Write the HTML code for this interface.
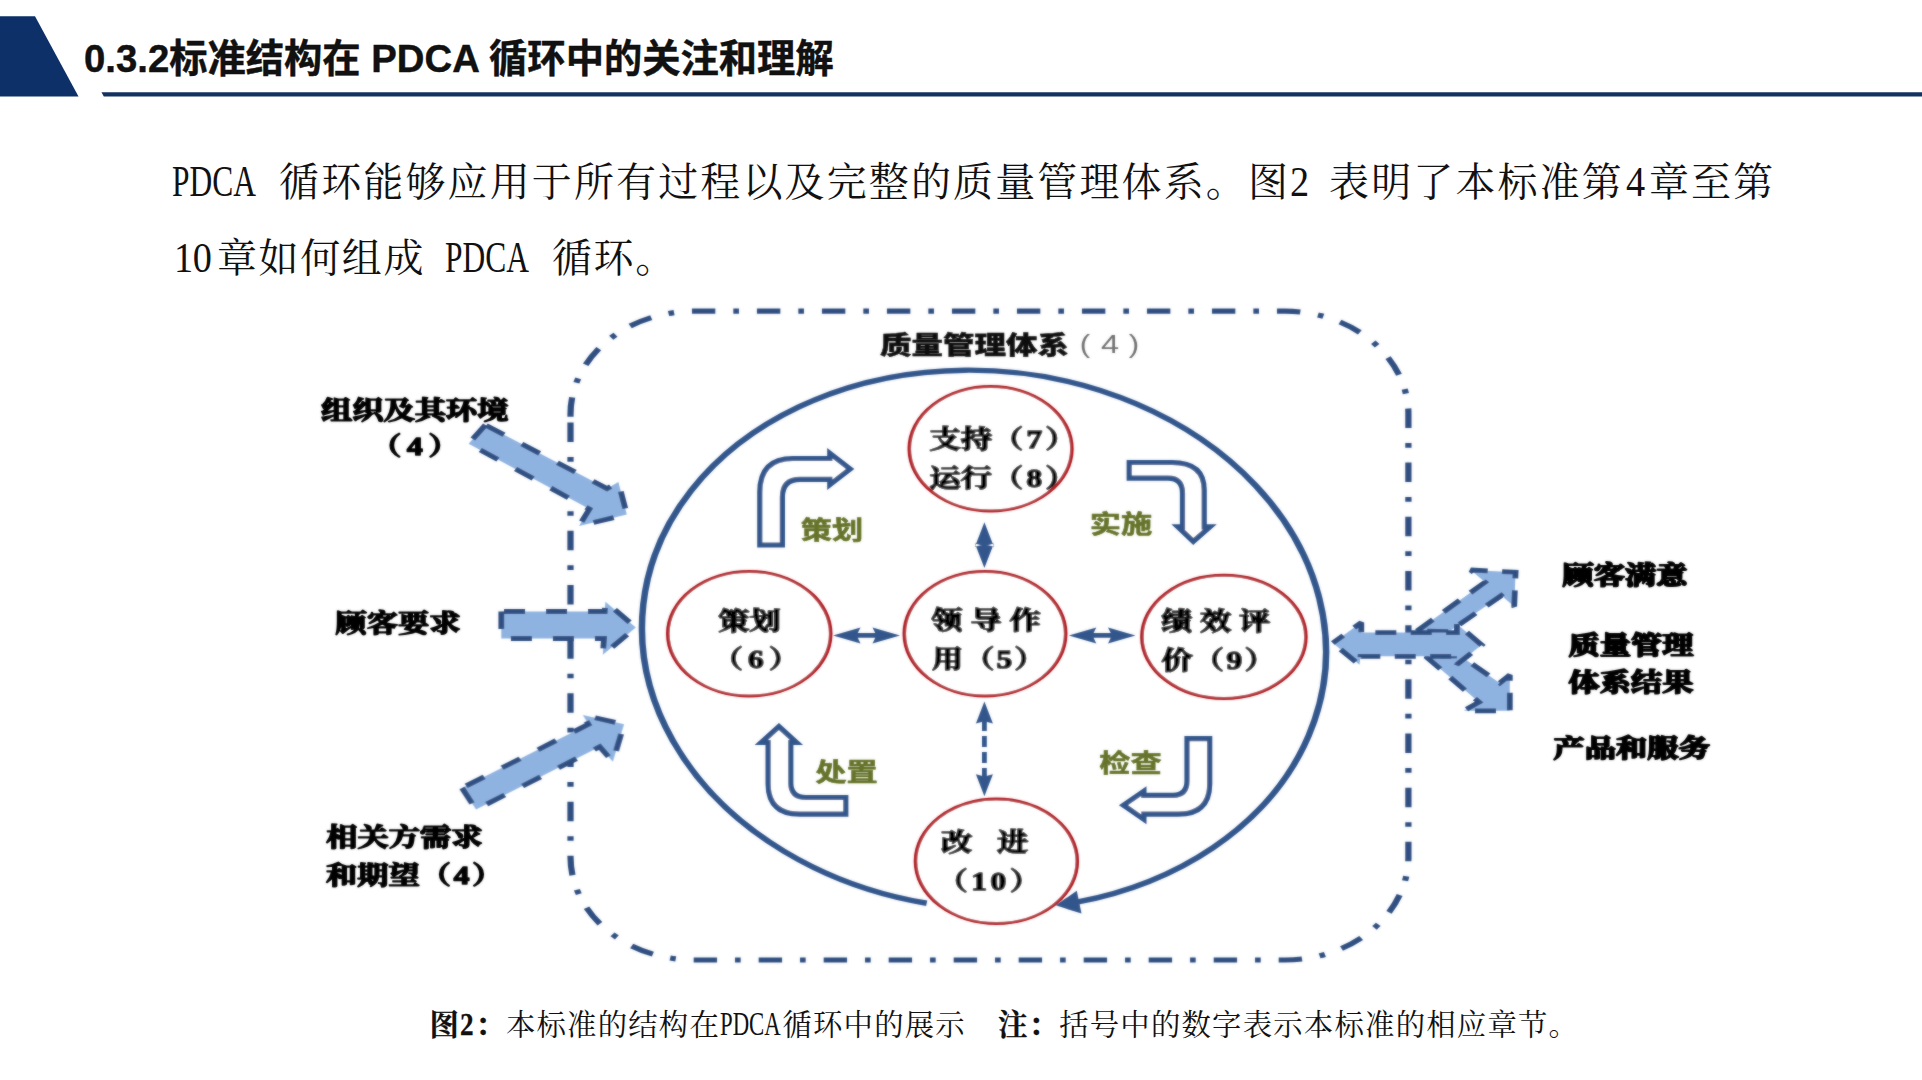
<!DOCTYPE html>
<html lang="zh-CN">
<head>
<meta charset="utf-8">
<title>0.3.2标准结构在 PDCA 循环中的关注和理解</title>
<style>
html,body{margin:0;padding:0;background:#fff;}
body{width:1922px;height:1080px;position:relative;overflow:hidden;}
.abs{position:absolute;white-space:nowrap;}
#title{left:84px;top:30.5px;font:bold 38.3px/56px 'Liberation Sans','Noto Sans CJK SC',sans-serif;color:#111;letter-spacing:0;-webkit-text-stroke:0.45px #111;}
.p{font-family:'Liberation Serif','Noto Serif CJK SC',serif;font-size:40px;line-height:60px;color:#111;letter-spacing:2.13px;}
.lw{display:inline-block;letter-spacing:0;white-space:nowrap;vertical-align:baseline;}
.li{display:inline-block;transform-origin:0 50%;letter-spacing:0;}
.p .li{font-size:44px;transform:scaleX(0.715);}
.p .dg{font-size:42.5px;transform:scaleX(0.9);}
#cap{left:429.5px;top:1002px;font-family:'Liberation Serif','Noto Serif CJK SC',serif;font-size:29.4px;line-height:44px;color:#111;letter-spacing:1.2px;}
#cap b{font-weight:700;-webkit-text-stroke:0.3px #111;}
#cap .li{font-size:33px;transform:scaleX(0.69);}
#cap b .li{font-size:32px;transform:scaleX(0.85);}
svg{position:absolute;left:0;top:0;}
</style>
</head>
<body>
<svg width="1922" height="1080" viewBox="0 0 1922 1080">
<polygon points="0,16.3 35,16.3 78.5,96.6 0,96.6" fill="#0d3068"/>
<polygon points="101.5,92.2 1922,92.2 1922,96.4 103.8,96.4" fill="#14325f"/>
<defs><filter id="soft" x="0" y="0" width="1922" height="1080" filterUnits="userSpaceOnUse"><feGaussianBlur stdDeviation="0.8" result="b"/><feComposite in="SourceGraphic" in2="b" operator="arithmetic" k1="0" k2="0.5" k3="0.5" k4="0"/></filter></defs>
<g filter="url(#soft)">
<g transform="scale(1.2 1)"><path d="M475.42,416.8 L475.42,414.2 A103,103 0 0 1 578.42,311.2 L1070.67,311.2 A103,103 0 0 1 1173.67,414.2 L1173.67,857.0 A103,103 0 0 1 1070.67,960.0 L578.42,960.0 A103,103 0 0 1 475.42,857.0 L475.42,416.8" fill="none" stroke="#2f4e80" stroke-width="5.2" stroke-dasharray="19.5 15 4.7 14.97"/></g>
<g transform="scale(1.2 1)"><path d="M772.25,903.24 A287.04,267.38 19.13 1 1 898.33,901.91" fill="none" stroke="#33568c" stroke-width="5.4"/></g>
<g transform="scale(1.2 1)" fill="#fff" stroke="#b01f26" stroke-width="3.0"><ellipse cx="825.50" cy="448.75" rx="67.75" ry="62.25"/><ellipse cx="624.38" cy="633.75" rx="67.88" ry="62.25"/><ellipse cx="820.83" cy="633.75" rx="67.25" ry="62.25"/><ellipse cx="1019.92" cy="636.9" rx="68.33" ry="61.6"/><ellipse cx="830.33" cy="861.25" rx="67.42" ry="62.25"/></g>
<path d="M1055.6,905.3 L1076.8,890.8 L1081.5,913.6 Z" fill="#33568c"/>
<g transform="scale(1.2 1)"><path d="M404.50,425.00 L390.50,443.70 L491.17,509.00 L482.50,526.00 L522.33,514.50 L515.33,482.00 L505.83,488.60 Z" fill="#8fb3e1" stroke="#2f4e80" stroke-width="4.8" stroke-dasharray="17.5 17.5" stroke-dashoffset="0" stroke-linejoin="miter" stroke-miterlimit="2.2"/></g>
<g transform="scale(1.2 1)"><path d="M417.75,611.50 L417.75,638.50 L503.33,638.50 L502.33,654.80 L529.83,627.50 L504.50,601.70 L503.92,611.50 Z" fill="#8fb3e1" stroke="#2f4e80" stroke-width="4.8" stroke-dasharray="17.5 17.5" stroke-dashoffset="0" stroke-linejoin="miter" stroke-miterlimit="2.2"/></g>
<g transform="scale(1.2 1)"><path d="M385.00,788.00 L396.67,809.60 L499.75,746.80 L510.67,761.80 L520.00,724.30 L485.67,715.00 L490.33,724.30 Z" fill="#8fb3e1" stroke="#2f4e80" stroke-width="4.8" stroke-dasharray="17.5 17.5" stroke-dashoffset="0" stroke-linejoin="miter" stroke-miterlimit="2.2"/></g>
<g transform="scale(1.2 1)"><path d="M1180.75,631.10 L1237.50,582.20 L1225.67,570.00 L1263.00,572.20 L1261.83,606.40 L1251.08,595.60 L1207.50,631.60 Z" fill="#8fb3e1" stroke="#2f4e80" stroke-width="4.8" stroke-dasharray="17.5 12" stroke-dashoffset="0" stroke-linejoin="miter" stroke-miterlimit="2.2"/></g>
<g transform="scale(1.2 1)"><path d="M1188.08,656.30 L1232.50,702.20 L1219.83,710.80 L1258.17,710.80 L1258.17,675.00 L1249.83,683.00 L1216.67,655.80 Z" fill="#8fb3e1" stroke="#2f4e80" stroke-width="4.8" stroke-dasharray="17.5 12" stroke-dashoffset="0" stroke-linejoin="miter" stroke-miterlimit="2.2"/></g>
<g transform="scale(1.2 1)"><path d="M1110.67,643.00 L1134.42,622.60 L1134.42,632.60 L1214.08,632.60 L1214.08,624.00 L1234.67,645.00 L1214.08,664.60 L1214.08,656.30 L1133.75,656.30 L1132.92,664.80 Z" fill="#8fb3e1" stroke="#2f4e80" stroke-width="4.8" stroke-dasharray="17.5 12" stroke-dashoffset="6" stroke-linejoin="miter" stroke-miterlimit="2.2"/></g>
<path d="M759.8,545 L759.8,492 Q759.8,458.5 793,458.5 L829.8,458.5 L829.8,453.3 L850.1,469 L829.8,484.7 L829.8,479.3 L800,479.3 Q782.4,479.3 782.4,497 L782.4,545 Z" fill="#fff" stroke="#33568c" stroke-width="5.2" stroke-linejoin="miter"/>
<path d="M1129.2,462.5 L1172,462.5 Q1204.2,462.5 1204.2,490 L1204.2,526.9 L1209.9,526.9 L1193.3,541.5 L1177.9,526.9 L1182.5,526.9 L1182.5,493 Q1182.5,478.1 1168,478.1 L1129.2,478.1 Z" fill="#fff" stroke="#33568c" stroke-width="5.2" stroke-linejoin="miter"/>
<path d="M1187,738.6 L1209.7,738.6 L1209.7,784 Q1209.7,814.2 1178,814.2 L1143.9,814.2 L1143.9,819.3 L1123.5,805.2 L1143.9,791.2 L1143.9,795.3 L1173,795.3 Q1187,795.3 1187,781 Z" fill="#fff" stroke="#33568c" stroke-width="5.2" stroke-linejoin="miter"/>
<path d="M778.9,726.5 L796.4,742.5 L790.8,742.5 L790.8,783 Q790.8,797.5 806,797.5 L845.8,797.5 L845.8,814.2 L800,814.2 Q768.1,814.2 768.1,784 L768.1,742.5 L761.3,742.5 Z" fill="#fff" stroke="#33568c" stroke-width="5.2" stroke-linejoin="miter"/>
<path d="M833,635.4 L860.5,627.4 L857.75,633.1 L875.25,633.1 L872.5,627.4 L900,635.4 L872.5,643.4 L875.25,637.6999999999999 L857.75,637.6999999999999 L860.5,643.4 Z" fill="#33568c"/>
<path d="M1068.8,635.4 L1096.3,627.4 L1093.55,633.1 L1110.75,633.1 L1108.0,627.4 L1135.5,635.4 L1108.0,643.4 L1110.75,637.6999999999999 L1093.55,637.6999999999999 L1096.3,643.4 Z" fill="#33568c"/>
<path d="M984.4,522.2 L993.9,546.7 L984.4,544.25 L974.9,546.7 Z M984.4,568 L993.9,543.5 L984.4,545.95 L974.9,543.5 Z" fill="#33568c"/>
<path d="M984.4,540 L984.4,550" stroke="#33568c" stroke-width="5" fill="none"/>
<path d="M984.4,701.4 L992.9,723.4 L984.4,721.1999999999999 L975.9,723.4 Z M984.4,796.2 L992.9,774.2 L984.4,776.4000000000001 L975.9,774.2 Z" fill="#33568c"/>
<path d="M984.4,718 L984.4,780" stroke="#33568c" stroke-width="4.8" stroke-dasharray="11 5" stroke-dashoffset="-2" fill="none"/>
<text transform="translate(974.5 353.5) scale(1.25 1)" font-family="'Liberation Sans','Noto Sans CJK SC',sans-serif" font-size="25.2" font-weight="900" fill="#0a0a0a" stroke="#0a0a0a" stroke-width="0.4" stroke-linejoin="round" text-anchor="middle" >质量管理体系</text>
<text transform="translate(1085.0 352.5) scale(1.25 1)" font-family="'Liberation Sans','Noto Sans CJK SC',sans-serif" font-size="25" font-weight="300" fill="#707070"  text-anchor="middle" >(</text>
<text transform="translate(1110.0 353.0) scale(1.25 1)" font-family="'Liberation Sans','Noto Sans CJK SC',sans-serif" font-size="26" font-weight="300" fill="#707070"  text-anchor="middle" >4</text>
<text transform="translate(1134.0 352.5) scale(1.25 1)" font-family="'Liberation Sans','Noto Sans CJK SC',sans-serif" font-size="25" font-weight="300" fill="#707070"  text-anchor="middle" >)</text>
<text transform="translate(414.7 419.0) scale(1.25 1)" font-family="'Liberation Serif','Noto Serif CJK SC',serif" font-size="25" font-weight="700" fill="#000" stroke="#000" stroke-width="1.5" stroke-linejoin="round" text-anchor="middle" >组织及其环境</text>
<text transform="translate(417.7 455.0) scale(1.25 1)" font-family="'Liberation Serif','Noto Serif CJK SC',serif" font-size="25" font-weight="700" fill="#000" stroke="#000" stroke-width="1.5" stroke-linejoin="round" text-anchor="middle" letter-spacing="4.5">（4）</text>
<text transform="translate(398.0 632.0) scale(1.25 1)" font-family="'Liberation Serif','Noto Serif CJK SC',serif" font-size="25" font-weight="700" fill="#000" stroke="#000" stroke-width="1.5" stroke-linejoin="round" text-anchor="middle" >顾客要求</text>
<text transform="translate(404.4 846.0) scale(1.25 1)" font-family="'Liberation Serif','Noto Serif CJK SC',serif" font-size="25" font-weight="700" fill="#000" stroke="#000" stroke-width="1.5" stroke-linejoin="round" text-anchor="middle" >相关方需求</text>
<text transform="translate(326.0 884.0) scale(1.25 1)" font-family="'Liberation Serif','Noto Serif CJK SC',serif" font-size="25" font-weight="700" fill="#000" stroke="#000" stroke-width="1.5" stroke-linejoin="round" text-anchor="start" >和期望<tspan letter-spacing="2.2">（4）</tspan></text>
<text transform="translate(1625.0 583.5) scale(1.25 1)" font-family="'Liberation Serif','Noto Serif CJK SC',serif" font-size="25" font-weight="700" fill="#000" stroke="#000" stroke-width="1.8" stroke-linejoin="round" text-anchor="middle" >顾客满意</text>
<text transform="translate(1631.0 653.5) scale(1.25 1)" font-family="'Liberation Serif','Noto Serif CJK SC',serif" font-size="25" font-weight="700" fill="#000" stroke="#000" stroke-width="1.8" stroke-linejoin="round" text-anchor="middle" >质量管理</text>
<text transform="translate(1631.0 691.0) scale(1.25 1)" font-family="'Liberation Serif','Noto Serif CJK SC',serif" font-size="25" font-weight="700" fill="#000" stroke="#000" stroke-width="1.8" stroke-linejoin="round" text-anchor="middle" >体系结果</text>
<text transform="translate(1631.6 757.0) scale(1.25 1)" font-family="'Liberation Serif','Noto Serif CJK SC',serif" font-size="25" font-weight="700" fill="#000" stroke="#000" stroke-width="1.8" stroke-linejoin="round" text-anchor="middle" >产品和服务</text>
<text transform="translate(929.5 447.5) scale(1.25 1)" font-family="'Liberation Serif','Noto Serif CJK SC',serif" font-size="25" font-weight="700" fill="#000" stroke="#000" stroke-width="1.5" stroke-linejoin="round" text-anchor="start" >支持<tspan letter-spacing="2.6">（7）</tspan></text>
<text transform="translate(929.5 486.5) scale(1.25 1)" font-family="'Liberation Serif','Noto Serif CJK SC',serif" font-size="25" font-weight="700" fill="#000" stroke="#000" stroke-width="1.5" stroke-linejoin="round" text-anchor="start" >运行<tspan letter-spacing="2.6">（8）</tspan></text>
<text transform="translate(749.4 630.0) scale(1.25 1)" font-family="'Liberation Serif','Noto Serif CJK SC',serif" font-size="25" font-weight="700" fill="#000" stroke="#000" stroke-width="1.5" stroke-linejoin="round" text-anchor="middle" >策划</text>
<text transform="translate(758.4 668.0) scale(1.25 1)" font-family="'Liberation Serif','Noto Serif CJK SC',serif" font-size="25" font-weight="700" fill="#000" stroke="#000" stroke-width="1.5" stroke-linejoin="round" text-anchor="middle" letter-spacing="4">（6）</text>
<text transform="translate(986.0 629.0) scale(1.25 1)" font-family="'Liberation Serif','Noto Serif CJK SC',serif" font-size="25" font-weight="700" fill="#000" stroke="#000" stroke-width="1.5" stroke-linejoin="round" text-anchor="middle" >领 导 作</text>
<text transform="translate(932.0 668.0) scale(1.25 1)" font-family="'Liberation Serif','Noto Serif CJK SC',serif" font-size="25" font-weight="700" fill="#000" stroke="#000" stroke-width="1.5" stroke-linejoin="round" text-anchor="start" >用<tspan letter-spacing="1.7">（5）</tspan></text>
<text transform="translate(1161.0 630.0) scale(1.25 1)" font-family="'Liberation Serif','Noto Serif CJK SC',serif" font-size="25" font-weight="700" fill="#000" stroke="#000" stroke-width="1.5" stroke-linejoin="round" text-anchor="start" >绩 效 评</text>
<text transform="translate(1161.5 669.0) scale(1.25 1)" font-family="'Liberation Serif','Noto Serif CJK SC',serif" font-size="25" font-weight="700" fill="#000" stroke="#000" stroke-width="1.5" stroke-linejoin="round" text-anchor="start" >价<tspan letter-spacing="2">（9）</tspan></text>
<text transform="translate(956.7 851.0) scale(1.25 1)" font-family="'Liberation Serif','Noto Serif CJK SC',serif" font-size="25" font-weight="700" fill="#000" stroke="#000" stroke-width="1.5" stroke-linejoin="round" text-anchor="middle" >改</text>
<text transform="translate(1012.5 851.0) scale(1.25 1)" font-family="'Liberation Serif','Noto Serif CJK SC',serif" font-size="25" font-weight="700" fill="#000" stroke="#000" stroke-width="1.5" stroke-linejoin="round" text-anchor="middle" >进</text>
<text transform="translate(990.5 889.5) scale(1.25 1)" font-family="'Liberation Serif','Noto Serif CJK SC',serif" font-size="25" font-weight="700" fill="#000" stroke="#000" stroke-width="1.5" stroke-linejoin="round" text-anchor="middle" letter-spacing="2.9">（10）</text>
<text transform="translate(832.0 538.5) scale(1.25 1)" font-family="'Liberation Sans','Noto Sans CJK SC',sans-serif" font-size="25" font-weight="700" fill="#65732a" stroke="#65732a" stroke-width="0.6" stroke-linejoin="round" text-anchor="middle" >策划</text>
<text transform="translate(1121.0 533.0) scale(1.25 1)" font-family="'Liberation Sans','Noto Sans CJK SC',sans-serif" font-size="25" font-weight="700" fill="#65732a" stroke="#65732a" stroke-width="0.6" stroke-linejoin="round" text-anchor="middle" >实施</text>
<text transform="translate(1130.5 772.0) scale(1.25 1)" font-family="'Liberation Sans','Noto Sans CJK SC',sans-serif" font-size="25" font-weight="700" fill="#65732a" stroke="#65732a" stroke-width="0.6" stroke-linejoin="round" text-anchor="middle" >检查</text>
<text transform="translate(846.5 780.5) scale(1.25 1)" font-family="'Liberation Sans','Noto Sans CJK SC',sans-serif" font-size="25" font-weight="700" fill="#65732a" stroke="#65732a" stroke-width="0.6" stroke-linejoin="round" text-anchor="middle" >处置</text>
</g>
</svg>
<div id="title" class="abs">0.3.2标准结构在 PDCA 循环中的关注和理解</div>
<div class="abs p" style="left:171.5px;top:152.2px;"><span class="lw"><span class="li">PDCA</span></span></div>
<div class="abs p" style="left:279px;top:152.2px;">循环能够应用于所有过程以及完整的质量管理体系。图<span class="lw" style="width:21px"><span class="li dg">2</span></span></div>
<div class="abs p" style="left:1329px;top:152.2px;">表明了本标准第<span class="lw" style="width:25px;padding-left:2px;box-sizing:border-box"><span class="li dg">4</span></span>章至第</div>
<div class="abs p" style="left:173.5px;top:227.6px;"><span class="lw"><span class="li dg" style="letter-spacing:-0.5px">10</span></span></div>
<div class="abs p" style="left:217px;top:228.7px;letter-spacing:1.6px;">章如何组成</div>
<div class="abs p" style="left:444.5px;top:227.6px;"><span class="lw"><span class="li">PDCA</span></span></div>
<div class="abs p" style="left:552px;top:228.7px;letter-spacing:1.6px;">循环。</div>
<div id="cap" class="abs"><b>图<span class="lw" style="width:15.2px"><span class="li">2</span></span>：</b>本标准的结构在<span class="lw" style="width:62.4px"><span class="li">PDCA</span></span>循环中的展示<span style="display:inline-block;width:32px"></span><b>注：</b>括号中的数字表示本标准的相应章节。</div>
</body>
</html>
